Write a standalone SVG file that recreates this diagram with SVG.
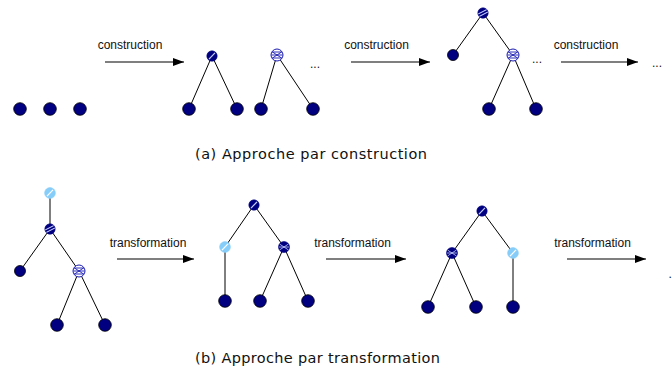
<svg xmlns="http://www.w3.org/2000/svg" xmlns:xlink="http://www.w3.org/1999/xlink" width="672" height="372" viewBox="0 0 672 372">
  <style>
    .edge { stroke: #000; stroke-width: 1; fill: none; }
    .arrow { stroke: #000; stroke-width: 1.1; fill: none; marker-end: url(#head); }
    .lbl { font-family: "Liberation Sans", Arial, sans-serif; font-size: 12px; fill: #111; text-anchor: middle; }
    .dots { font-family: "Liberation Sans", Arial, sans-serif; font-size: 12px; fill: #111; }
    .cap { font-family: "DejaVu Sans", "Liberation Sans", sans-serif; font-size: 14.5px; fill: #111; }
  </style>
  <defs>
    <marker id="head" markerUnits="userSpaceOnUse" markerWidth="11" markerHeight="8" refX="11" refY="4" orient="auto">
      <path d="M0,0 L11,4 L0,8 Z" fill="#000"/>
    </marker>
    <clipPath id="c5"><circle r="5"/></clipPath>
    <clipPath id="c6"><circle r="5.6"/></clipPath>
    <!-- plain leaf, large and small -->
    <symbol id="leaf" overflow="visible">
      <circle r="6.3" fill="#000080" stroke="#000" stroke-width="0.8"/>
    </symbol>
    <symbol id="leafS" overflow="visible">
      <circle r="5.5" fill="#000080" stroke="#000" stroke-width="0.8"/>
    </symbol>
    <!-- navy node with one white stroke -->
    <symbol id="slash" overflow="visible">
      <circle r="5.2" fill="#000080" stroke="#000080" stroke-width="0.6"/>
      <line x1="-3" y1="3.2" x2="3" y2="-3.2" stroke="#c8d0ff" stroke-width="1.2" clip-path="url(#c5)"/>
    </symbol>
    <!-- navy node with two white strokes -->
    <symbol id="double" overflow="visible">
      <circle r="5.2" fill="#000080" stroke="#000080" stroke-width="0.6"/>
      <g stroke="#c8d0ff" stroke-width="1.1" clip-path="url(#c5)">
        <line x1="-5" y1="1" x2="5" y2="-4"/>
        <line x1="-5" y1="4" x2="5" y2="-1"/>
      </g>
    </symbol>
    <!-- light blue node with one white stroke -->
    <symbol id="light" overflow="visible">
      <circle r="5.4" fill="#86cdf9" stroke="#86cdf9" stroke-width="0.6"/>
      <line x1="-3" y1="3.2" x2="3" y2="-3.2" stroke="#ffffff" stroke-width="1.2" clip-path="url(#c5)"/>
    </symbol>
    <!-- open cross-hatched node -->
    <symbol id="cross" overflow="visible">
      <circle r="6" fill="#fff" stroke="#1a1ab0" stroke-width="1"/>
      <g stroke="#1a1ab0" stroke-width="0.9" clip-path="url(#c6)">
        <line x1="-6" y1="-4" x2="6" y2="4"/>
        <line x1="-6" y1="4" x2="6" y2="-4"/>
        <line x1="-6" y1="0" x2="6" y2="0"/>
        <line x1="-6" y1="-3" x2="6" y2="-3"/>
        <line x1="-6" y1="3" x2="6" y2="3"/>
      </g>
    </symbol>
    <!-- filled cross-hatched node -->
    <symbol id="dense" overflow="visible">
      <circle r="5.5" fill="#000080" stroke="#000080" stroke-width="0.6"/>
      <g stroke="#c8d0ff" stroke-width="0.8" clip-path="url(#c5)">
        <line x1="-6" y1="-4" x2="6" y2="4"/>
        <line x1="-6" y1="4" x2="6" y2="-4"/>
        <line x1="-6" y1="0" x2="6" y2="0"/>
      </g>
    </symbol>
  </defs>

  <!-- connectors: tree edges and step arrows -->
  <g id="connectors">
    <!-- row a, tree pair -->
    <line class="edge" x1="212" y1="56" x2="189" y2="109"/>
    <line class="edge" x1="212" y1="56" x2="237" y2="109"/>
    <line class="edge" x1="277" y1="55" x2="261" y2="109"/>
    <line class="edge" x1="277" y1="55" x2="313" y2="109"/>
    <!-- row a, merged tree -->
    <line class="edge" x1="483" y1="13" x2="453" y2="55"/>
    <line class="edge" x1="483" y1="13" x2="513" y2="55"/>
    <line class="edge" x1="513" y1="55" x2="489" y2="109"/>
    <line class="edge" x1="513" y1="55" x2="536" y2="109"/>
    <!-- row b, tree A -->
    <line class="edge" x1="50" y1="193" x2="50" y2="229"/>
    <line class="edge" x1="50" y1="229" x2="20" y2="271"/>
    <line class="edge" x1="50" y1="229" x2="79" y2="271"/>
    <line class="edge" x1="79" y1="271" x2="57" y2="325"/>
    <line class="edge" x1="79" y1="271" x2="105" y2="325"/>
    <!-- row b, tree B -->
    <line class="edge" x1="254" y1="205" x2="225" y2="247"/>
    <line class="edge" x1="254" y1="205" x2="284" y2="247"/>
    <line class="edge" x1="225" y1="247" x2="225" y2="301"/>
    <line class="edge" x1="284" y1="247" x2="260" y2="301"/>
    <line class="edge" x1="284" y1="247" x2="308" y2="301"/>
    <!-- row b, tree C -->
    <line class="edge" x1="482" y1="211" x2="452" y2="253"/>
    <line class="edge" x1="482" y1="211" x2="513" y2="253"/>
    <line class="edge" x1="452" y1="253" x2="428" y2="307"/>
    <line class="edge" x1="452" y1="253" x2="476" y2="307"/>
    <line class="edge" x1="513" y1="253" x2="513" y2="307"/>
    <!-- step arrows -->
    <line class="arrow" x1="105" y1="62" x2="184" y2="62"/>
    <line class="arrow" x1="351" y1="62" x2="430" y2="62"/>
    <line class="arrow" x1="561" y1="62" x2="638" y2="62"/>
    <line class="arrow" x1="117" y1="259" x2="194" y2="259"/>
    <line class="arrow" x1="326" y1="259" x2="406" y2="259"/>
    <line class="arrow" x1="567" y1="259" x2="646" y2="259"/>
  </g>

  <!-- arrow labels -->
  <g id="labels">
    <text class="lbl" x="130" y="48.5">construction</text>
    <text class="lbl" x="376.5" y="49">construction</text>
    <text class="lbl" x="586" y="49">construction</text>
    <text class="lbl" x="148" y="246.5">transformation</text>
    <text class="lbl" x="352.5" y="246.5">transformation</text>
    <text class="lbl" x="592.5" y="246.5">transformation</text>
    <text class="dots" x="310" y="68">...</text>
    <text class="dots" x="532" y="63">...</text>
    <text class="dots" x="652" y="67">...</text>
    <text class="dots" x="668.5" y="278">.</text>
  </g>

  <!-- row a nodes -->
  <g id="a-leaf1"><use xlink:href="#leaf" x="20" y="109"/></g>
  <g id="a-leaf2"><use xlink:href="#leaf" x="50" y="109"/></g>
  <g id="a-leaf3"><use xlink:href="#leaf" x="80" y="109"/></g>
  <g id="a-t1-root"><use xlink:href="#slash" x="212" y="56"/></g>
  <g id="a-t1-l"><use xlink:href="#leaf" x="189" y="109"/></g>
  <g id="a-t1-r"><use xlink:href="#leaf" x="237" y="109"/></g>
  <g id="a-t2-root"><use xlink:href="#cross" x="277" y="55"/></g>
  <g id="a-t2-l"><use xlink:href="#leaf" x="261" y="109"/></g>
  <g id="a-t2-r"><use xlink:href="#leaf" x="313" y="109"/></g>
  <g id="a-t3-root"><use xlink:href="#double" x="483" y="13"/></g>
  <g id="a-t3-leaf"><use xlink:href="#leafS" x="453" y="55"/></g>
  <g id="a-t3-cross"><use xlink:href="#cross" x="513" y="55"/></g>
  <g id="a-t3-l"><use xlink:href="#leaf" x="489" y="109"/></g>
  <g id="a-t3-r"><use xlink:href="#leaf" x="536" y="109"/></g>

  <!-- row b nodes -->
  <g id="b-A-top"><use xlink:href="#light" x="50" y="193"/></g>
  <g id="b-A-mid"><use xlink:href="#double" x="50" y="229"/></g>
  <g id="b-A-leaf"><use xlink:href="#leafS" x="20" y="271"/></g>
  <g id="b-A-cross"><use xlink:href="#cross" x="79" y="271"/></g>
  <g id="b-A-l"><use xlink:href="#leaf" x="57" y="325"/></g>
  <g id="b-A-r"><use xlink:href="#leaf" x="105" y="325"/></g>

  <g id="b-B-root"><use xlink:href="#slash" x="254" y="205"/></g>
  <g id="b-B-light"><use xlink:href="#light" x="225" y="247"/></g>
  <g id="b-B-dense"><use xlink:href="#dense" x="284" y="247"/></g>
  <g id="b-B-l1"><use xlink:href="#leaf" x="225" y="301"/></g>
  <g id="b-B-l2"><use xlink:href="#leaf" x="260" y="301"/></g>
  <g id="b-B-l3"><use xlink:href="#leaf" x="308" y="301"/></g>

  <g id="b-C-root"><use xlink:href="#slash" x="482" y="211"/></g>
  <g id="b-C-dense"><use xlink:href="#dense" x="452" y="253"/></g>
  <g id="b-C-light"><use xlink:href="#light" x="513" y="253"/></g>
  <g id="b-C-l1"><use xlink:href="#leaf" x="428" y="307"/></g>
  <g id="b-C-l2"><use xlink:href="#leaf" x="476" y="307"/></g>
  <g id="b-C-l3"><use xlink:href="#leaf" x="513" y="307"/></g>

  <!-- captions -->
  <text class="cap" x="195" y="158.5" textLength="232">(a) Approche par construction</text>
  <text class="cap" x="195" y="362.5" textLength="245">(b) Approche par transformation</text>
</svg>
